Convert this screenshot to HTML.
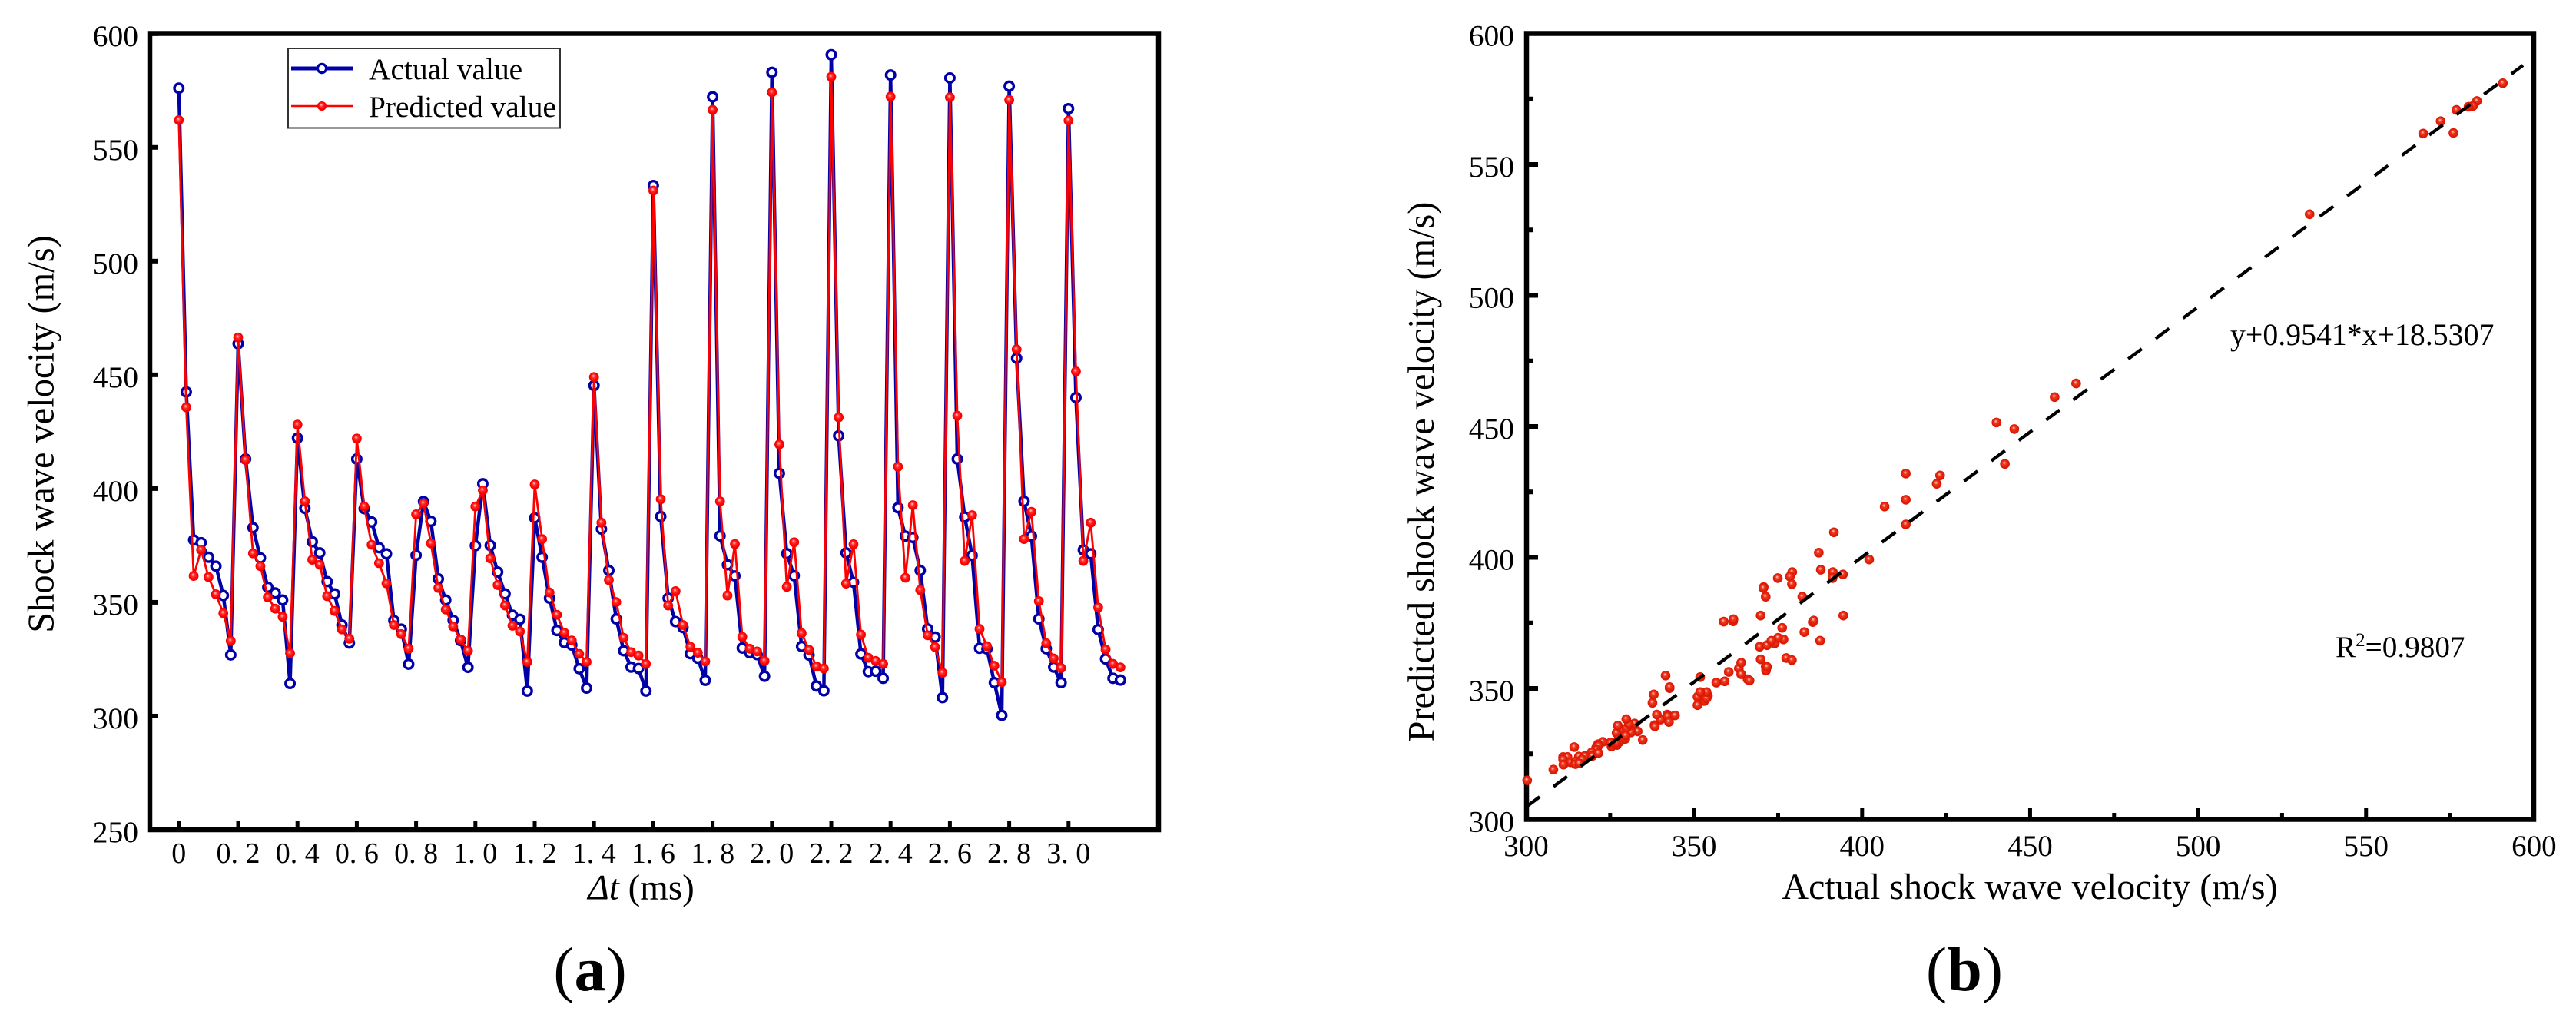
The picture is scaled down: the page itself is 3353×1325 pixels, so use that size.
<!DOCTYPE html>
<html lang="en">
<head>
<meta charset="utf-8">
<title>Shock wave velocity: actual vs predicted</title>
<style>
  html, body { margin: 0; padding: 0; background: #fff; }
  #figure { display: block; width: 3353px; height: 1325px; background: #fff; }
  text { font-family: "Liberation Serif", "Times New Roman", serif; fill: #000; }
</style>
</head>
<body>
<svg id="figure" xmlns="http://www.w3.org/2000/svg" width="3353" height="1325" viewBox="0 0 3353 1325">
  <defs>
    <radialGradient id="redBall" cx="0.5" cy="0.5" r="0.55" fx="0.42" fy="0.36">
      <stop offset="0" stop-color="#ffd8d8"/>
      <stop offset="0.32" stop-color="#ff3030"/>
      <stop offset="0.7" stop-color="#ff0000"/>
      <stop offset="1" stop-color="#ee0000"/>
    </radialGradient>
    <radialGradient id="scatterBall" cx="0.5" cy="0.5" r="0.55" fx="0.42" fy="0.36">
      <stop offset="0" stop-color="#ffd8cf"/>
      <stop offset="0.32" stop-color="#ee3a22"/>
      <stop offset="0.7" stop-color="#e21c06"/>
      <stop offset="1" stop-color="#d01400"/>
    </radialGradient>
  </defs>
  <g id="panelA"></g>
  <g id="panelB"></g>
</svg>
<script>
// ---- shared data ----
const deltaT = [
0,0.025,0.05,0.075,0.1,0.125,0.15,0.175,
0.2,0.225,0.25,0.275,0.3,0.325,0.35,0.375,
0.4,0.425,0.45,0.475,0.5,0.525,0.55,0.575,
0.6,0.625,0.65,0.675,0.7,0.725,0.75,0.775,
0.8,0.825,0.85,0.875,0.9,0.925,0.95,0.975,
1,1.025,1.05,1.075,1.1,1.125,1.15,1.175,
1.2,1.225,1.25,1.275,1.3,1.325,1.35,1.375,
1.4,1.425,1.45,1.475,1.5,1.525,1.55,1.575,
1.6,1.625,1.65,1.675,1.7,1.725,1.75,1.775,
1.8,1.825,1.85,1.875,1.9,1.925,1.95,1.975,
2,2.025,2.05,2.075,2.1,2.125,2.15,2.175,
2.2,2.225,2.25,2.275,2.3,2.325,2.35,2.375,
2.4,2.425,2.45,2.475,2.5,2.525,2.55,2.575,
2.6,2.625,2.65,2.675,2.7,2.725,2.75,2.775,
2.8,2.825,2.85,2.875,2.9,2.925,2.95,2.975,
3,3.025,3.05,3.075,3.1,3.125,3.15,3.175];

const actualVelocity = [
576,442.5,377.4,376.2,369.8,365.9,353,326.9,
463.7,413,382.8,369.5,356.6,354.1,351,314.3,
422.2,391.3,376.6,371.7,359.1,353.7,340,332.1,
413,391.2,385.3,374,371.3,342,338.2,322.8,
370.7,394.3,385.6,360.3,351,342.1,333.2,321.4,
374.9,402.1,375,363.3,353.7,344.3,342.5,311,
387.1,369.8,351.8,337.6,332.3,331.2,320.8,312.3,
445.3,382.2,364,342.7,328.7,321.5,320.9,311,
533.2,387.7,351.8,341.5,338.9,327.4,325.4,315.7,
572.2,379.2,366.5,361.6,329.9,327.8,327,317.5,
583,406.7,371.4,361.7,330.6,326.8,313.2,311.1,
590.7,423.2,371.7,358.8,327.3,319.5,319.7,316.6,
581.8,391.6,379.1,378.5,364,338.3,334.7,308.1,
580.5,413,387.5,370.6,329.8,329.5,314.7,300.3,
576.9,457.3,394.4,379.1,342.7,329.6,321.5,314.7,
567,440,373,371.3,338,325.1,316.6,315.8];

const predictedVelocity = [
562,435.7,361.6,373.1,361.1,353.5,345.2,333,
466.4,412.6,371.5,365.9,352.2,347.2,343.6,327.6,
428.1,394.4,368.7,366.5,352.7,346.2,338.1,334,
422,392.1,375.3,367.2,358.3,340,336,329.6,
388.7,393.5,375.9,356.3,346.8,339.4,333.6,328.7,
392.1,399.2,369.3,357.6,348.6,339.7,337.2,323.8,
401.8,377.8,354.3,344.5,336.6,333.2,327.3,323.8,
449,385,359.8,350.1,334.4,328.1,326.6,322.9,
531,395.3,348.6,354.9,340,330.4,327.8,324,
566.5,394.4,353,375.6,334.8,329.6,328.4,324.2,
574.2,419.4,356.8,376.4,336.4,329.1,321.8,320.9,
581,431.3,358.2,375.5,335.8,325.6,324.2,322.9,
572.3,409.6,360.8,392.7,355.4,335.5,330.3,319,
572,432,368.2,388.3,338.3,330.7,322.1,314.9,
570.8,461.2,377.8,389.8,350.5,332,325.3,321.1,
561.8,451.5,368.2,385,347.7,329.3,322.9,321.4];

const lineYTicks = [250,300,350,400,450,500,550,600];
const lineXTicks = [0,0.2,0.4,0.6,0.8,1,1.2,1.4,1.6,1.8,2,2.2,2.4,2.6,2.8,3];
const lineXTickLabels = ["0","0. 2","0. 4","0. 6","0. 8","1. 0","1. 2","1. 4","1. 6","1. 8","2. 0","2. 2","2. 4","2. 6","2. 8","3. 0"];

const scatterMajorTicks = [300,350,400,450,500,550,600];
const scatterMinorTicks = [325,375,425,475,525,575];
const fitSlope = 0.9541;
const fitIntercept = 18.5307;
const fitStart = 300;
const fitEnd = 596.7;

// ---- axis functions ----
const lineX = v => 232.8 + v * 386;
const lineY = v => 1080 - (v - 250) * 2.9607;
const scatX = v => 1986.5 + (v - 300) * 4.373;
const scatY = v => 1066.5 - (v - 300) * 3.41;

const NS = "http://www.w3.org/2000/svg";
const panelA = document.getElementById("panelA");
const panelB = document.getElementById("panelB");

function addLine(parent, name, x1, y1, x2, y2, color, width) {
  const el = document.createElementNS(NS, "line");
  
  
  el.setAttribute("x1", x1);
  el.setAttribute("y1", y1);
  el.setAttribute("x2", x2);
  el.setAttribute("y2", y2);
  el.setAttribute("stroke", color);
  el.setAttribute("stroke-width", width);
  parent.appendChild(el);
  return el;
}

function addText(parent, name, str, x, y, size, anchor) {
  const el = document.createElementNS(NS, "text");
  
  
  el.setAttribute("x", x);
  el.setAttribute("y", y);
  el.setAttribute("font-size", size);
  el.setAttribute("text-anchor", anchor);
  el.textContent = str;
  parent.appendChild(el);
  return el;
}

function addFrame(parent, name, x, y, w, h, stroke, sw) {
  const el = document.createElementNS(NS, "rect");
  
  
  el.setAttribute("x", x);
  el.setAttribute("y", y);
  el.setAttribute("width", w);
  el.setAttribute("height", h);
  el.setAttribute("fill", "none");
  el.setAttribute("stroke", stroke);
  el.setAttribute("stroke-width", sw);
  parent.appendChild(el);
  return el;
}

function addPolyline(parent, name, xs, ys, color, width) {
  const el = document.createElementNS(NS, "polyline");
  
  
  el.setAttribute("points", xs.map((x, i) => x.toFixed(2) + "," + ys[i].toFixed(2)).join(" "));
  el.setAttribute("fill", "none");
  el.setAttribute("stroke", color);
  el.setAttribute("stroke-width", width);
  el.setAttribute("stroke-linejoin", "round");
  parent.appendChild(el);
  return el;
}

function addCircle(parent, name, cx, cy, r, fill, stroke, sw) {
  const el = document.createElementNS(NS, "circle");
  
  
  el.setAttribute("cx", cx);
  el.setAttribute("cy", cy);
  el.setAttribute("r", r);
  el.setAttribute("fill", fill);
  el.setAttribute("stroke", stroke);
  el.setAttribute("stroke-width", sw);
  parent.appendChild(el);
  return el;
}

const BLUE = "#0000a8";
const RED = "#ff0000";

// ---- panel (a): line chart ----
lineYTicks.forEach(v => {
  addLine(panelA, "y-axis-tick", 195, lineY(v), 206, lineY(v), "#000", 6);
  addText(panelA, "y-axis-tick-label", String(v), 180, lineY(v) + 16, 39.5, "end");
});
lineXTicks.forEach((v, i) => {
  addLine(panelA, "x-axis-tick", lineX(v), 1080, lineX(v), 1068, "#000", 5);
  addText(panelA, "x-axis-tick-label", lineXTickLabels[i], lineX(v), 1123, 38, "middle");
});
addFrame(panelA, "plot-frame", 195, 43.5, 1313, 1036.5, "#000", 6.5);

const aXs = deltaT.map(lineX);
addPolyline(panelA, "actual-value-line", aXs, actualVelocity.map(lineY), BLUE, 4.5);
actualVelocity.forEach((v, i) => {
  addCircle(panelA, "actual-value-point", lineX(deltaT[i]), lineY(v), 5.8, "#fff", BLUE, 3.4);
});
addPolyline(panelA, "predicted-value-line", aXs, predictedVelocity.map(lineY), RED, 2.8);
predictedVelocity.forEach((v, i) => {
  addCircle(panelA, "predicted-value-point", lineX(deltaT[i]), lineY(v), 6.4, "url(#redBall)", "none", 0);
});

addFrame(panelA, "legend-box", 375, 63, 354, 103.5, "#333", 2);
addLine(panelA, "legend-actual-line", 379, 89, 460, 89, BLUE, 5);
addCircle(panelA, "legend-actual-marker", 419, 89, 5.6, "#fff", BLUE, 3.2);
addText(panelA, "legend-actual-label", "Actual value", 480, 103, 39.4, "start");
addLine(panelA, "legend-predicted-line", 379, 138, 460, 138, RED, 2.6);
addCircle(panelA, "legend-predicted-marker", 419, 138, 6, "url(#redBall)", "none", 0);
addText(panelA, "legend-predicted-label", "Predicted value", 480, 152, 39.4, "start");

const yTitleA = addText(panelA, "y-axis-title", "Shock wave velocity (m/s)", 0, 0, 48.4, "middle");
yTitleA.setAttribute("transform", "translate(69.5 565) rotate(-90)");

const xTitleA = addText(panelA, "x-axis-title", "", 834.5, 1170.5, 47, "middle");
const dt = document.createElementNS(NS, "tspan");
dt.setAttribute("font-style", "italic");
dt.textContent = "Δt";
xTitleA.appendChild(dt);
xTitleA.appendChild(document.createTextNode(" (ms)"));

const capA = addText(panelA, "panel-a-caption", "", 768, 1289, 82, "middle");
capA.appendChild(document.createTextNode("("));
const capABold = document.createElementNS(NS, "tspan");
capABold.setAttribute("font-weight", "bold");
capABold.textContent = "a";
capA.appendChild(capABold);
capA.appendChild(document.createTextNode(")"));

// ---- panel (b): scatter chart ----
scatterMajorTicks.forEach(v => {
  addLine(panelB, "y-axis-major-tick", 1988, scatY(v), 2002, scatY(v), "#000", 6);
  addLine(panelB, "x-axis-major-tick", scatX(v), 1066.5, scatX(v), 1052, "#000", 5);
  addText(panelB, "y-axis-tick-label", String(v), 1971, scatY(v) + 16, 39.5, "end");
  addText(panelB, "x-axis-tick-label", String(v), scatX(v), 1114, 39, "middle");
});
scatterMinorTicks.forEach(v => {
  addLine(panelB, "y-axis-minor-tick", 1988, scatY(v), 1996, scatY(v), "#000", 6);
  addLine(panelB, "x-axis-minor-tick", scatX(v), 1066.5, scatX(v), 1058, "#000", 5);
});
addFrame(panelB, "plot-frame", 1987, 43.5, 1311, 1023, "#000", 6.5);

actualVelocity.forEach((v, i) => {
  addCircle(panelB, "scatter-point", scatX(v), scatY(predictedVelocity[i]), 6.3, "url(#scatterBall)", "none", 0);
});

const fitLine = addLine(panelB, "fit-line",
  scatX(fitStart), scatY(fitSlope * fitStart + fitIntercept),
  scatX(fitEnd), scatY(fitSlope * fitEnd + fitIntercept), "#000", 4.3);
fitLine.setAttribute("stroke-dasharray", "22 22.4");

addText(panelB, "fit-equation", "y+0.9541*x+18.5307", 2903, 449, 39.8, "start");

const r2 = addText(panelB, "r-squared-label", "", 3040, 855, 39.2, "start");
r2.appendChild(document.createTextNode("R"));
const sup = document.createElementNS(NS, "tspan");
sup.setAttribute("font-size", "25");
sup.setAttribute("dy", "-14");
sup.textContent = "2";
r2.appendChild(sup);
const rest = document.createElementNS(NS, "tspan");
rest.setAttribute("dy", "14");
rest.textContent = "=0.9807";
r2.appendChild(rest);

const yTitleB = addText(panelB, "y-axis-title", "Predicted shock wave velocity (m/s)", 0, 0, 48.3, "middle");
yTitleB.setAttribute("transform", "translate(1866 614) rotate(-90)");

addText(panelB, "x-axis-title", "Actual shock wave velocity (m/s)", 2642, 1170, 48, "middle");

const capB = addText(panelB, "panel-b-caption", "", 2557, 1289, 82, "middle");
capB.appendChild(document.createTextNode("("));
const capBBold = document.createElementNS(NS, "tspan");
capBBold.setAttribute("font-weight", "bold");
capBBold.textContent = "b";
capB.appendChild(capBBold);
capB.appendChild(document.createTextNode(")"));
</script>
</body>
</html>
